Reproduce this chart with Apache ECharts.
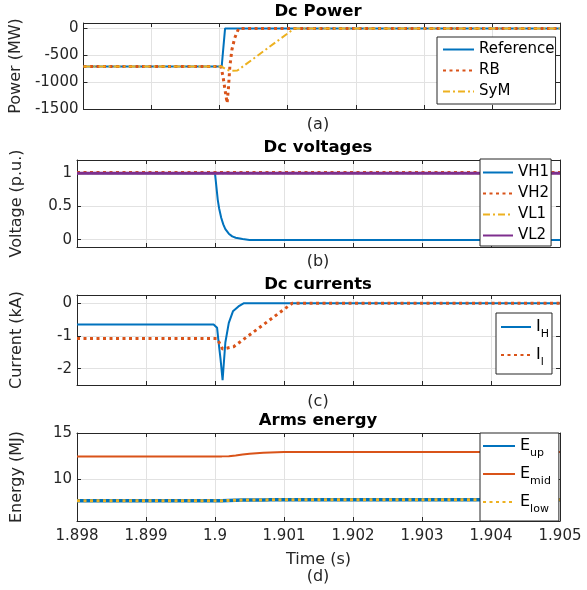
<!DOCTYPE html>
<html>
<head>
<meta charset="utf-8">
<script src="https://cdn.jsdelivr.net/npm/echarts@6/dist/echarts.min.js"></script>
<style>
  html, body { margin: 0; padding: 0; background: #fff; }
  #chart { width: 587px; height: 590px; }
</style>
</head>
<body>
<div id="chart"></div>
<script>
// time axis (s)
const xMin = 1.898, xMax = 1.905, xStep = 0.001;

// (a) Dc power, MW
const refT = [1.898, 1.90003, 1.90008, 1.905];
const refP = [-710, -710, 0, 0];
const rbT = [1.898, 1.90002, 1.90005, 1.90008, 1.90011, 1.90013, 1.90015, 1.90018, 1.90022, 1.90025, 1.90028, 1.905];
const rbP = [-710, -710, -900, -1150, -1390, -1100, -710, -400, -185, -90, 0, 0];
const symT = [1.898, 1.90003, 1.9001, 1.90016, 1.90026, 1.9011, 1.905];
const symP = [-710, -710, -770, -790, -785, 0, 0];

// (b) Dc voltages, p.u.
const vT = [1.898, 1.9, 1.90002, 1.90004, 1.90006, 1.90009, 1.90012, 1.90015, 1.9002, 1.90025, 1.9003, 1.9004, 1.9005, 1.905];
const vh1 = [1, 1, 0.8, 0.6, 0.47, 0.33, 0.23, 0.16, 0.09, 0.05, 0.03, 0.01, -0.005, -0.005];
const flatT = [1.898, 1.905];
const vh2 = [1.01, 1.01];
const vl1 = [1, 1];
const vl2 = [1, 1];

// (c) Dc currents, kA
const ihT = [1.898, 1.89998, 1.90003, 1.90005, 1.90008, 1.90011, 1.90015, 1.9002, 1.90026, 1.90034, 1.90042, 1.905];
const ih = [-0.65, -0.65, -0.75, -1.15, -1.7, -2.35, -1.2, -0.6, -0.25, -0.1, 0, 0];
const ilT = [1.898, 1.90003, 1.90011, 1.90027, 1.90112, 1.905];
const il = [-1.08, -1.08, -1.4, -1.33, 0, 0];

// (d) arms energy, MJ
const eT = [1.898, 1.9001, 1.9002, 1.9003, 1.9004, 1.9005, 1.9006, 1.9007, 1.9008, 1.9009, 1.901, 1.905];
const eMid = [12.45, 12.45, 12.47, 12.55, 12.65, 12.74, 12.8, 12.85, 12.88, 12.9, 12.92, 12.92];
const eUp = [7.6, 7.6, 7.64, 7.67, 7.68, 7.69, 7.7, 7.7, 7.71, 7.71, 7.72, 7.72];
const eLow = [7.6, 7.6, 7.64, 7.67, 7.68, 7.69, 7.7, 7.7, 7.71, 7.71, 7.72, 7.72];

const yNames = ['Power (MW)', 'Voltage (p.u.)', 'Current (kA)', 'Energy (MJ)'];
const yMin = [-1500, -0.11, -2.5, 5.4];
const yMax = [100, 1.2, 0.25, 15];
const ySplit = [3, 3, 3, 2];
const titles = ['Dc Power', 'Dc voltages', 'Dc currents', 'Arms energy'];
const tags = ['(a)', '(b)', '(c)', '(d)'];

const FONT = '"DejaVu Sans", sans-serif';
const AX = '#262626';
const BLUE = '#0072BD', ORANGE = '#D95319', YELLOW = '#EDB120', PURPLE = '#7E2F8E';
const DOT = [3, 3.5];
const DASHDOT = [7, 3, 2, 3];

const gridTop = [23, 160, 295, 433];
const gridH = [86, 87, 90, 88];

const pts = (t, v) => t.map((x, i) => [x, v[i]]);

function line(name, gi, t, v, color, width, type) {
  return {
    name, type: 'line', xAxisIndex: gi, yAxisIndex: gi,
    data: pts(t, v), symbol: 'none', showSymbol: false,
    lineStyle: { color, width, type }, itemStyle: { color }
  };
}

const grids = [], xAxes = [], yAxes = [];
for (let i = 0; i < 4; i++) {
  grids.push({ left: 77, width: 483, top: gridTop[i], height: gridH[i] });
}
const tick = { show: true, inside: true, length: 4, lineStyle: { color: AX } };
const aline = { show: true, onZero: false, lineStyle: { color: AX, width: 1 } };
for (let i = 0; i < 4; i++) {
  xAxes.push({
    type: 'value', gridIndex: i, min: xMin, max: xMax, interval: xStep, position: 'bottom',
    axisLine: aline, axisTick: tick,
    axisLabel: { show: i === 3, margin: 8, fontSize: 15, color: AX, fontFamily: FONT,
      formatter: v => String(+v.toFixed(3)) },
    splitLine: { show: true, lineStyle: { color: '#e2e2e2' } },
    name: i === 3 ? 'Time (s)' : '', nameLocation: 'middle', nameGap: 31,
    nameTextStyle: { fontSize: 16, color: AX, fontFamily: FONT }
  });
  yAxes.push({
    type: 'value', gridIndex: i, min: yMin[i], max: yMax[i], splitNumber: ySplit[i], position: 'left',
    axisLine: aline, axisTick: tick,
    axisLabel: { margin: 5, fontSize: 15, color: AX, fontFamily: FONT,
      showMinLabel: i === 0, showMaxLabel: i === 3,
      formatter: v => String(+v.toFixed(2)) },
    splitLine: { show: true, lineStyle: { color: '#e2e2e2' } },
    name: yNames[i], nameLocation: 'middle', nameGap: 52,
    nameTextStyle: { fontSize: 16, color: AX, fontFamily: FONT }
  });
}
// box: top and right axes with ticks only
for (let i = 0; i < 4; i++) {
  xAxes.push({
    type: 'value', gridIndex: i, min: xMin, max: xMax, interval: xStep, position: 'top',
    axisLine: aline, axisTick: tick, axisLabel: { show: false }, splitLine: { show: false }
  });
  yAxes.push({
    type: 'value', gridIndex: i, min: yMin[i], max: yMax[i], splitNumber: ySplit[i], position: 'right',
    axisLine: aline, axisTick: tick, axisLabel: { show: false }, splitLine: { show: false }
  });
}

const series = [
  line('Reference', 0, refT, refP, BLUE, 2, 'solid'),
  line('RB', 0, rbT, rbP, ORANGE, 3, DOT),
  line('SyM', 0, symT, symP, YELLOW, 2, DASHDOT),
  line('VH1', 1, vT, vh1, BLUE, 2, 'solid'),
  line('VH2', 1, flatT, vh2, ORANGE, 3, DOT),
  line('VL1', 1, flatT, vl1, YELLOW, 2, DASHDOT),
  line('VL2', 1, flatT, vl2, PURPLE, 3, 'solid'),
  line('I_H', 2, ihT, ih, BLUE, 2, 'solid'),
  line('I_l', 2, ilT, il, ORANGE, 3, DOT),
  line('E_up', 3, eT, eUp, BLUE, 3.5, 'solid'),
  line('E_mid', 3, eT, eMid, ORANGE, 2, 'solid'),
  line('E_low', 3, eT, eLow, YELLOW, 3, DOT)
];

const subRich = {
  m: { fontSize: 16, lineHeight: 16, verticalAlign: 'top', fontFamily: FONT, color: '#000' },
  s: { fontSize: 11, lineHeight: 11, verticalAlign: 'top', padding: [10, 0, 0, 0], fontFamily: FONT, color: '#000' }
};
const subFmt = n => { const p = n.split('_'); return p.length > 1 ? `{m|${p[0]}}{s|${p[1]}}` : n; };
const legendBase = {
  orient: 'vertical', borderColor: AX, borderWidth: 1, backgroundColor: '#fff', borderRadius: 0,
  itemHeight: 15, itemStyle: { opacity: 0 },
  textStyle: { fontSize: 15, color: '#000', fontFamily: FONT }
};
const legends = [
  Object.assign({}, legendBase, { data: ['Reference', 'RB', 'SyM'], left: 437, top: 37,
    itemWidth: 31, itemGap: 6, padding: [5, 1, 5, 5] }),
  Object.assign({}, legendBase, { data: ['VH1', 'VH2', 'VL1', 'VL2'], left: 480, top: 159,
    itemWidth: 30, itemGap: 6, padding: [6, 2, 3, 2] }),
  Object.assign({}, legendBase, { data: ['I_H', 'I_l'], left: 496, top: 313,
    itemWidth: 30, itemGap: 7, padding: [6, 3, 6, 4], formatter: subFmt,
    textStyle: { fontSize: 15, fontFamily: FONT, rich: subRich } }),
  Object.assign({}, legendBase, { data: ['E_up', 'E_mid', 'E_low'], left: 480, top: 433,
    itemWidth: 32, itemGap: 7, padding: [5, 8, 6, 2], formatter: subFmt,
    textStyle: { fontSize: 15, fontFamily: FONT, rich: subRich } })
];

const titleY = [12, 148, 285, 421];
const tagY = [125, 262, 402, 577];
const graphic = [];
for (let i = 0; i < 4; i++) {
  graphic.push({ type: 'text', x: 318, y: titleY[i], style: { text: titles[i],
    font: 'bold 16.5px "DejaVu Sans"', fill: '#000', align: 'center', verticalAlign: 'middle' } });
  graphic.push({ type: 'text', x: 318, y: tagY[i], style: { text: tags[i],
    font: '16px "DejaVu Sans"', fill: AX, align: 'center', verticalAlign: 'middle' } });
}

const chart = echarts.init(document.getElementById('chart'));
chart.setOption({
  animation: false,
  backgroundColor: '#fff',
  grid: grids,
  xAxis: xAxes,
  yAxis: yAxes,
  legend: legends,
  graphic: graphic,
  series: series
});
</script>
</body>
</html>
